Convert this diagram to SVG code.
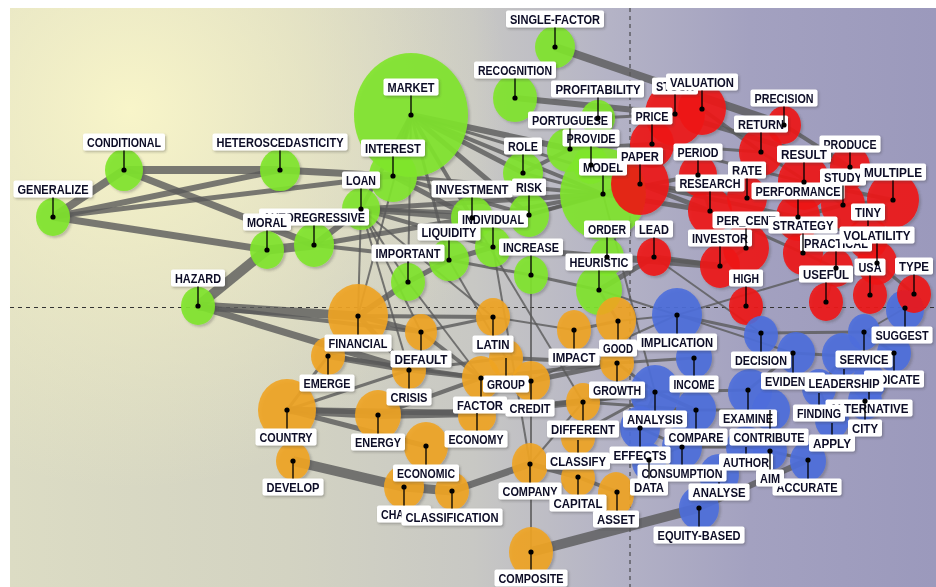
<svg xmlns="http://www.w3.org/2000/svg" width="936" height="587" viewBox="0 0 936 587">
<defs>
<linearGradient id="bgl" x1="10" y1="0" x2="936" y2="0" gradientUnits="userSpaceOnUse">
<stop offset="0" stop-color="#dcdcc4"/><stop offset="0.3" stop-color="#d3d3c2"/><stop offset="0.5" stop-color="#c8c8c4"/><stop offset="0.65" stop-color="#b4b3c6"/><stop offset="0.8" stop-color="#a3a1c0"/><stop offset="1" stop-color="#9b99bc"/>
</linearGradient>
<radialGradient id="bgr" cx="130" cy="110" r="380" gradientUnits="userSpaceOnUse">
<stop offset="0" stop-color="#f8f5c9" stop-opacity="1"/><stop offset="0.45" stop-color="#f3f0c6" stop-opacity="0.6"/><stop offset="1" stop-color="#f0edc4" stop-opacity="0"/>
</radialGradient>
<filter id="sh" x="-10%" y="-10%" width="120%" height="120%"><feDropShadow dx="2" dy="2" stdDeviation="1.2" flood-color="#404040" flood-opacity="0.3"/></filter>
<filter id="lsh" x="-10%" y="-10%" width="120%" height="120%"><feDropShadow dx="1.2" dy="1.4" stdDeviation="0.8" flood-color="#303030" flood-opacity="0.35"/></filter>
<style>
.e{stroke:#5a5a5a;stroke-opacity:.8;fill:none}
.dash{stroke:#333;stroke-width:1;stroke-dasharray:4 4;fill:none}
.g{fill:#7fe52a}.o{fill:#efa424}.r{fill:#ee1414}.b{fill:#4d6edb}
#nodes ellipse{fill-opacity:.9}
#labels rect{fill:#fff}
#labels text{font-family:"Liberation Sans",Arial,sans-serif;font-weight:bold;font-size:13.5px;fill:#0c0c26;text-anchor:middle}
.pin{stroke:#000;stroke-width:1.3;fill:none}
.dot{fill:#000}
</style>
</defs>
<rect x="10" y="8" width="926" height="579" fill="url(#bgl)"/>
<rect x="10" y="8" width="926" height="579" fill="url(#bgr)"/>
<path class="dash" d="M630 8V587M10 307.5H936"/>
<g id="connectors" class="e">
<path stroke-width="8" d="M53 217L124 170"/>
<path stroke-width="6" d="M53 217L280 170"/>
<path stroke-width="5" d="M53 217L393 176"/>
<path stroke-width="7" d="M53 217L267 250"/>
<path stroke-width="8" d="M124 170L280 170"/>
<path stroke-width="7" d="M124 170L314 245"/>
<path stroke-width="7" d="M280 170L393 176"/>
<path stroke-width="10" d="M267 250L198 306"/>
<path stroke-width="9" d="M267 250L314 245"/>
<path stroke-width="6" d="M314 245L361 209"/>
<path stroke-width="5" d="M314 245L472 218"/>
<path stroke-width="4" d="M314 245L449 260"/>
<path stroke-width="9" d="M198 306L358 316"/>
<path stroke-width="7" d="M198 306L409 370"/>
<path stroke-width="4" d="M198 306L421 332"/>
<path stroke-width="6" d="M411 115L393 176"/>
<path stroke-width="4" d="M411 115L361 209"/>
<path stroke-width="5" d="M411 115L523 173"/>
<path stroke-width="5" d="M411 115L529 215"/>
<path stroke-width="4" d="M411 115L472 218"/>
<path stroke-width="4" d="M411 115L603 194"/>
<path stroke-width="6" d="M411 115L570 149"/>
<path stroke-width="3" d="M411 115L449 260"/>
<path stroke-width="2" d="M411 115L358 316"/>
<path stroke-width="2" d="M411 115L408 282"/>
<path stroke-width="3" d="M411 115L640 184"/>
<path stroke-width="6" d="M361 209L472 218"/>
<path stroke-width="4" d="M361 209L529 215"/>
<path stroke-width="5" d="M361 209L603 194"/>
<path stroke-width="4" d="M361 209L493 247"/>
<path stroke-width="2" d="M361 209L408 282"/>
<path stroke-width="2" d="M361 209L358 316"/>
<path stroke-width="2" d="M361 209L421 332"/>
<path stroke-width="2" d="M361 209L409 370"/>
<path stroke-width="4" d="M393 176L529 215"/>
<path stroke-width="4" d="M393 176L603 194"/>
<path stroke-width="5" d="M393 176L472 218"/>
<path stroke-width="6" d="M603 194L640 184"/>
<path stroke-width="5" d="M603 194L710 211"/>
<path stroke-width="4" d="M603 194L698 175"/>
<path stroke-width="3" d="M529 215L603 194"/>
<path stroke-width="4" d="M529 215L640 184"/>
<path stroke-width="4" d="M472 218L603 194"/>
<path stroke-width="4" d="M523 173L570 149"/>
<path stroke-width="3" d="M523 173L603 194"/>
<path stroke-width="3" d="M570 149L598 118"/>
<path stroke-width="4" d="M570 149L652 144"/>
<path stroke-width="3" d="M598 118L675 114"/>
<path stroke-width="8" d="M555 47L784 125"/>
<path stroke-width="6" d="M515 98L675 114"/>
<path stroke-width="5" d="M675 114L850 167"/>
<path stroke-width="4" d="M702 109L761 152"/>
<path stroke-width="3" d="M652 144L761 152"/>
<path stroke-width="3" d="M652 144L804 182"/>
<path stroke-width="5" d="M640 184L710 211"/>
<path stroke-width="4" d="M640 184L747 198"/>
<path stroke-width="4" d="M640 184L798 217"/>
<path stroke-width="3" d="M698 175L710 211"/>
<path stroke-width="3" d="M710 211L803 253"/>
<path stroke-width="3" d="M747 198L804 182"/>
<path stroke-width="4" d="M804 182L893 200"/>
<path stroke-width="4" d="M843 205L893 200"/>
<path stroke-width="4" d="M798 217L843 205"/>
<path stroke-width="3" d="M798 217L868 238"/>
<path stroke-width="4" d="M784 125L850 167"/>
<path stroke-width="3" d="M761 152L843 205"/>
<path stroke-width="7" d="M607 257L720 266"/>
<path stroke-width="5" d="M654 257L720 266"/>
<path stroke-width="5" d="M599 290L654 257"/>
<path stroke-width="6" d="M493 247L607 257"/>
<path stroke-width="3" d="M531 275L599 290"/>
<path stroke-width="5" d="M449 260L493 247"/>
<path stroke-width="5" d="M408 282L449 260"/>
<path stroke-width="6" d="M408 282L358 316"/>
<path stroke-width="3" d="M449 260L531 275"/>
<path stroke-width="3" d="M599 290L618 321"/>
<path stroke-width="2" d="M654 257L761 333"/>
<path stroke-width="2" d="M677 315L836 268"/>
<path stroke-width="3" d="M677 315L761 333"/>
<path stroke-width="2" d="M677 315L793 353"/>
<path stroke-width="2" d="M599 290L677 315"/>
<path stroke-width="5" d="M358 316L421 332"/>
<path stroke-width="4" d="M358 316L493 317"/>
<path stroke-width="5" d="M358 316L409 370"/>
<path stroke-width="6" d="M328 356L409 370"/>
<path stroke-width="4" d="M328 356L481 378"/>
<path stroke-width="8" d="M287 410L378 415"/>
<path stroke-width="8" d="M378 415L477 413"/>
<path stroke-width="6" d="M287 410L477 413"/>
<path stroke-width="4" d="M378 415L481 378"/>
<path stroke-width="3" d="M287 410L409 370"/>
<path stroke-width="3" d="M287 410L328 356"/>
<path stroke-width="5" d="M287 410L426 446"/>
<path stroke-width="10" d="M293 461L404 487"/>
<path stroke-width="9" d="M404 487L452 491"/>
<path stroke-width="7" d="M452 491L530 464"/>
<path stroke-width="5" d="M530 464L578 477"/>
<path stroke-width="4" d="M617 492L578 477"/>
<path stroke-width="10" d="M531 552L699 508"/>
<path stroke-width="6" d="M699 508L808 460"/>
<path stroke-width="2" d="M531 552L531 381"/>
<path stroke-width="6" d="M477 413L583 402"/>
<path stroke-width="5" d="M477 413L655 392"/>
<path stroke-width="4" d="M481 378L617 363"/>
<path stroke-width="4" d="M506 358L617 363"/>
<path stroke-width="5" d="M531 381L617 363"/>
<path stroke-width="2" d="M493 317L574 330"/>
<path stroke-width="3" d="M421 332L493 317"/>
<path stroke-width="4" d="M421 332L481 378"/>
<path stroke-width="5" d="M409 370L481 378"/>
<path stroke-width="3" d="M409 370L506 358"/>
<path stroke-width="4" d="M583 402L655 392"/>
<path stroke-width="3" d="M578 434L655 392"/>
<path stroke-width="3" d="M583 402L696 410"/>
<path stroke-width="3" d="M617 363L694 358"/>
<path stroke-width="3" d="M617 363L655 392"/>
<path stroke-width="2" d="M531 381L677 315"/>
<path stroke-width="2" d="M618 321L677 315"/>
<path stroke-width="3" d="M574 330L618 321"/>
<path stroke-width="3" d="M655 392L748 390"/>
<path stroke-width="4" d="M655 392L696 410"/>
<path stroke-width="3" d="M696 410L770 410"/>
<path stroke-width="3" d="M640 428L682 447"/>
<path stroke-width="3" d="M640 428L655 392"/>
<path stroke-width="2" d="M649 460L682 447"/>
<path stroke-width="3" d="M682 447L746 447"/>
<path stroke-width="2" d="M719 478L746 447"/>
<path stroke-width="3" d="M748 390L793 353"/>
<path stroke-width="3" d="M761 333L864 332"/>
<path stroke-width="3" d="M793 353L844 356"/>
<path stroke-width="3" d="M864 332L894 353"/>
<path stroke-width="2" d="M905 308L864 332"/>
<path stroke-width="2" d="M819 388L832 420"/>
<path stroke-width="3" d="M869 382L865 401"/>
<path stroke-width="2" d="M746 447L770 451"/>
<path stroke-width="3" d="M770 451L808 460"/>
<path stroke-width="3" d="M844 356L819 388"/>
<path stroke-width="2" d="M472 218L583 402"/>
<path stroke-width="2" d="M603 194L655 392"/>
<path stroke-width="2" d="M493 247L530 464"/>
<path stroke-width="2" d="M531 275L531 381"/>
<path stroke-width="2" d="M449 260L506 358"/>
<path stroke-width="2" d="M408 282L481 378"/>
<path stroke-width="2" d="M361 209L493 317"/>
<path stroke-width="2" d="M530 464L583 402"/>
<path stroke-width="3" d="M746 248L720 266"/>
<path stroke-width="3" d="M803 253L836 268"/>
<path stroke-width="3" d="M877 263L870 295"/>
<path stroke-width="3" d="M868 238L877 263"/>
<path stroke-width="2" d="M826 302L836 268"/>
<path stroke-width="3" d="M914 294L877 263"/>
</g>
<g id="nodes" filter="url(#sh)">
<g id="market"><ellipse class="g" cx="411" cy="115" rx="57" ry="62"/></g>
<g id="model"><ellipse class="g" cx="603" cy="194" rx="43" ry="46"/></g>
<g id="single-factor"><ellipse class="g" cx="555" cy="47" rx="20" ry="21"/></g>
<g id="recognition"><ellipse class="g" cx="515" cy="98" rx="22" ry="24"/></g>
<g id="profitability"><ellipse class="g" cx="598" cy="118" rx="17" ry="18"/></g>
<g id="portuguese"><ellipse class="g" cx="568" cy="150" rx="21" ry="22"/></g>
<g id="provide"><ellipse class="g" cx="591" cy="165" rx="18" ry="19"/></g>
<g id="conditional"><ellipse class="g" cx="124" cy="170" rx="19" ry="21"/></g>
<g id="heteroscedasticity"><ellipse class="g" cx="280" cy="170" rx="20" ry="21"/></g>
<g id="generalize"><ellipse class="g" cx="53" cy="217" rx="17" ry="19"/></g>
<g id="interest"><ellipse class="g" cx="393" cy="176" rx="24" ry="26"/></g>
<g id="loan"><ellipse class="g" cx="361" cy="209" rx="19" ry="21"/></g>
<g id="moral"><ellipse class="g" cx="267" cy="250" rx="17" ry="19"/></g>
<g id="autoregressive"><ellipse class="g" cx="314" cy="245" rx="20" ry="22"/></g>
<g id="hazard"><ellipse class="g" cx="198" cy="306" rx="17" ry="19"/></g>
<g id="important"><ellipse class="g" cx="408" cy="282" rx="17" ry="19"/></g>
<g id="liquidity"><ellipse class="g" cx="449" cy="260" rx="20" ry="21"/></g>
<g id="investment"><ellipse class="g" cx="472" cy="218" rx="21" ry="22"/></g>
<g id="individual"><ellipse class="g" cx="493" cy="247" rx="18" ry="20"/></g>
<g id="risk"><ellipse class="g" cx="529" cy="215" rx="20" ry="22"/></g>
<g id="role"><ellipse class="g" cx="523" cy="173" rx="20" ry="21"/></g>
<g id="increase"><ellipse class="g" cx="531" cy="275" rx="17" ry="19"/></g>
<g id="heuristic"><ellipse class="g" cx="599" cy="290" rx="23" ry="25"/></g>
<g id="order"><ellipse class="g" cx="607" cy="257" rx="17" ry="19"/></g>
<g id="stock"><ellipse class="r" cx="675" cy="114" rx="30" ry="32"/></g>
<g id="valuation"><ellipse class="r" cx="702" cy="109" rx="24" ry="26"/></g>
<g id="price"><ellipse class="r" cx="652" cy="144" rx="22" ry="24"/></g>
<g id="paper"><ellipse class="r" cx="640" cy="184" rx="29" ry="31"/></g>
<g id="precision"><ellipse class="r" cx="784" cy="125" rx="17" ry="19"/></g>
<g id="return"><ellipse class="r" cx="761" cy="152" rx="22" ry="24"/></g>
<g id="period"><ellipse class="r" cx="698" cy="175" rx="19" ry="21"/></g>
<g id="research"><ellipse class="r" cx="710" cy="211" rx="22" ry="24"/></g>
<g id="rate"><ellipse class="r" cx="747" cy="198" rx="20" ry="22"/></g>
<g id="result"><ellipse class="r" cx="804" cy="182" rx="26" ry="28"/></g>
<g id="produce"><ellipse class="r" cx="850" cy="167" rx="20" ry="22"/></g>
<g id="study"><ellipse class="r" cx="843" cy="205" rx="22" ry="24"/></g>
<g id="multiple"><ellipse class="r" cx="893" cy="200" rx="26" ry="28"/></g>
<g id="performance"><ellipse class="r" cx="798" cy="217" rx="22" ry="24"/></g>
<g id="tiny"><ellipse class="r" cx="868" cy="238" rx="20" ry="22"/></g>
<g id="volatility"><ellipse class="r" cx="877" cy="263" rx="20" ry="22"/></g>
<g id="per_cent"><ellipse class="r" cx="746" cy="248" rx="23" ry="25"/></g>
<g id="strategy"><ellipse class="r" cx="803" cy="253" rx="20" ry="22"/></g>
<g id="investor"><ellipse class="r" cx="720" cy="266" rx="20" ry="22"/></g>
<g id="practical"><ellipse class="r" cx="836" cy="268" rx="17" ry="19"/></g>
<g id="lead"><ellipse class="r" cx="654" cy="257" rx="17" ry="19"/></g>
<g id="high"><ellipse class="r" cx="746" cy="306" rx="17" ry="19"/></g>
<g id="useful"><ellipse class="r" cx="826" cy="302" rx="17" ry="19"/></g>
<g id="usa"><ellipse class="r" cx="870" cy="295" rx="17" ry="19"/></g>
<g id="suggest"><ellipse class="b" cx="905" cy="310" rx="19" ry="20"/></g>
<g id="type"><ellipse class="r" cx="914" cy="294" rx="17" ry="19"/></g>
<g id="implication"><ellipse class="b" cx="677" cy="315" rx="25" ry="27"/></g>
<g id="decision"><ellipse class="b" cx="761" cy="335" rx="17" ry="19"/></g>
<g id="evidence"><ellipse class="b" cx="796" cy="353" rx="19" ry="21"/></g>
<g id="service"><ellipse class="b" cx="864" cy="332" rx="16" ry="18"/></g>
<g id="indicate"><ellipse class="b" cx="894" cy="353" rx="17" ry="19"/></g>
<g id="leadership"><ellipse class="b" cx="842" cy="355" rx="20" ry="22"/></g>
<g id="finding"><ellipse class="b" cx="819" cy="388" rx="17" ry="19"/></g>
<g id="alternative"><ellipse class="b" cx="869" cy="382" rx="17" ry="19"/></g>
<g id="city"><ellipse class="b" cx="865" cy="401" rx="17" ry="19"/></g>
<g id="apply"><ellipse class="b" cx="832" cy="420" rx="17" ry="19"/></g>
<g id="income"><ellipse class="b" cx="694" cy="358" rx="18" ry="20"/></g>
<g id="analysis"><ellipse class="b" cx="655" cy="392" rx="25" ry="27"/></g>
<g id="compare"><ellipse class="b" cx="696" cy="410" rx="20" ry="22"/></g>
<g id="examine"><ellipse class="b" cx="750" cy="392" rx="22" ry="23"/></g>
<g id="contribute"><ellipse class="b" cx="771" cy="410" rx="19" ry="21"/></g>
<g id="effects"><ellipse class="b" cx="640" cy="428" rx="20" ry="22"/></g>
<g id="consumption"><ellipse class="b" cx="682" cy="447" rx="20" ry="22"/></g>
<g id="data"><ellipse class="b" cx="649" cy="462" rx="17" ry="19"/></g>
<g id="author"><ellipse class="b" cx="746" cy="447" rx="20" ry="21"/></g>
<g id="aim"><ellipse class="b" cx="770" cy="451" rx="17" ry="19"/></g>
<g id="accurate"><ellipse class="b" cx="808" cy="461" rx="18" ry="20"/></g>
<g id="analyse"><ellipse class="b" cx="719" cy="475" rx="20" ry="21"/></g>
<g id="equity-based"><ellipse class="b" cx="699" cy="508" rx="20" ry="22"/></g>
<g id="financial"><ellipse class="o" cx="358" cy="316" rx="30" ry="32"/></g>
<g id="default"><ellipse class="o" cx="421" cy="332" rx="16" ry="18"/></g>
<g id="emerge"><ellipse class="o" cx="328" cy="356" rx="17" ry="19"/></g>
<g id="crisis"><ellipse class="o" cx="409" cy="370" rx="17" ry="19"/></g>
<g id="country"><ellipse class="o" cx="287" cy="410" rx="29" ry="31"/></g>
<g id="energy"><ellipse class="o" cx="378" cy="415" rx="23" ry="25"/></g>
<g id="economic"><ellipse class="o" cx="426" cy="446" rx="22" ry="24"/></g>
<g id="develop"><ellipse class="o" cx="293" cy="461" rx="17" ry="19"/></g>
<g id="change"><ellipse class="o" cx="404" cy="487" rx="20" ry="22"/></g>
<g id="classification"><ellipse class="o" cx="452" cy="491" rx="17" ry="19"/></g>
<g id="latin"><ellipse class="o" cx="493" cy="317" rx="17" ry="19"/></g>
<g id="impact"><ellipse class="o" cx="574" cy="330" rx="17" ry="20"/></g>
<g id="good"><ellipse class="o" cx="616" cy="320" rx="20" ry="23"/></g>
<g id="growth"><ellipse class="o" cx="617" cy="363" rx="17" ry="18"/></g>
<g id="group"><ellipse class="o" cx="506" cy="358" rx="17" ry="19"/></g>
<g id="factor"><ellipse class="o" cx="481" cy="378" rx="19" ry="22"/></g>
<g id="credit"><ellipse class="o" cx="531" cy="381" rx="19" ry="20"/></g>
<g id="economy"><ellipse class="o" cx="477" cy="416" rx="19" ry="18"/></g>
<g id="different"><ellipse class="o" cx="583" cy="402" rx="17" ry="19"/></g>
<g id="classify"><ellipse class="o" cx="578" cy="438" rx="17" ry="17"/></g>
<g id="company"><ellipse class="o" cx="530" cy="464" rx="18" ry="21"/></g>
<g id="capital"><ellipse class="o" cx="578" cy="478" rx="17" ry="18"/></g>
<g id="asset"><ellipse class="o" cx="616" cy="494" rx="18" ry="22"/></g>
<g id="composite"><ellipse class="o" cx="531" cy="552" rx="22" ry="25"/></g>
</g>
<g id="labels" filter="url(#lsh)">
<g id="l-single-factor"><rect x="506" y="10.5" width="98" height="17" rx="2"/><text x="555" y="23.8" textLength="90" lengthAdjust="spacingAndGlyphs">SINGLE-FACTOR</text></g>
<g id="l-recognition"><rect x="474" y="61.5" width="82" height="17" rx="2"/><text x="515" y="74.8" textLength="74" lengthAdjust="spacingAndGlyphs">RECOGNITION</text></g>
<g id="l-profitability"><rect x="551" y="80.5" width="93" height="17" rx="2"/><text x="598" y="93.8" textLength="85" lengthAdjust="spacingAndGlyphs">PROFITABILITY</text></g>
<g id="l-portuguese"><rect x="528" y="111.5" width="84" height="17" rx="2"/><text x="570" y="124.8" textLength="76" lengthAdjust="spacingAndGlyphs">PORTUGUESE</text></g>
<g id="l-provide"><rect x="562.5" y="129.5" width="57" height="17" rx="2"/><text x="591" y="142.8" textLength="49" lengthAdjust="spacingAndGlyphs">PROVIDE</text></g>
<g id="l-model"><rect x="579" y="158.5" width="48" height="17" rx="2"/><text x="603" y="171.8" textLength="40" lengthAdjust="spacingAndGlyphs">MODEL</text></g>
<g id="l-market"><rect x="383.5" y="78.5" width="55" height="17" rx="2"/><text x="411" y="91.8" textLength="47" lengthAdjust="spacingAndGlyphs">MARKET</text></g>
<g id="l-conditional"><rect x="83" y="133.5" width="82" height="17" rx="2"/><text x="124" y="146.8" textLength="74" lengthAdjust="spacingAndGlyphs">CONDITIONAL</text></g>
<g id="l-heteroscedasticity"><rect x="212.5" y="133.5" width="135" height="17" rx="2"/><text x="280" y="146.8" textLength="127" lengthAdjust="spacingAndGlyphs">HETEROSCEDASTICITY</text></g>
<g id="l-generalize"><rect x="13.5" y="180.5" width="79" height="17" rx="2"/><text x="53" y="193.8" textLength="71" lengthAdjust="spacingAndGlyphs">GENERALIZE</text></g>
<g id="l-interest"><rect x="361" y="139.5" width="64" height="17" rx="2"/><text x="393" y="152.8" textLength="56" lengthAdjust="spacingAndGlyphs">INTEREST</text></g>
<g id="l-loan"><rect x="342" y="171.5" width="38" height="17" rx="2"/><text x="361" y="184.8" textLength="30" lengthAdjust="spacingAndGlyphs">LOAN</text></g>
<g id="l-autoregressive"><rect x="259" y="208.5" width="110" height="17" rx="2"/><text x="314" y="221.8" textLength="102" lengthAdjust="spacingAndGlyphs">AUTOREGRESSIVE</text></g>
<g id="l-moral"><rect x="243" y="213.5" width="48" height="17" rx="2"/><text x="267" y="226.8" textLength="40" lengthAdjust="spacingAndGlyphs">MORAL</text></g>
<g id="l-hazard"><rect x="171" y="269.5" width="54" height="17" rx="2"/><text x="198" y="282.8" textLength="46" lengthAdjust="spacingAndGlyphs">HAZARD</text></g>
<g id="l-important"><rect x="371.5" y="244.5" width="73" height="17" rx="2"/><text x="408" y="257.8" textLength="65" lengthAdjust="spacingAndGlyphs">IMPORTANT</text></g>
<g id="l-investment"><rect x="431.5" y="180.5" width="81" height="17" rx="2"/><text x="472" y="193.8" textLength="73" lengthAdjust="spacingAndGlyphs">INVESTMENT</text></g>
<g id="l-liquidity"><rect x="417.5" y="223.5" width="63" height="17" rx="2"/><text x="449" y="236.8" textLength="55" lengthAdjust="spacingAndGlyphs">LIQUIDITY</text></g>
<g id="l-individual"><rect x="458" y="210.5" width="70" height="17" rx="2"/><text x="493" y="223.8" textLength="62" lengthAdjust="spacingAndGlyphs">INDIVIDUAL</text></g>
<g id="l-risk"><rect x="512" y="178.5" width="34" height="17" rx="2"/><text x="529" y="191.8" textLength="26" lengthAdjust="spacingAndGlyphs">RISK</text></g>
<g id="l-role"><rect x="504" y="137.5" width="38" height="17" rx="2"/><text x="523" y="150.8" textLength="30" lengthAdjust="spacingAndGlyphs">ROLE</text></g>
<g id="l-increase"><rect x="499" y="238.5" width="64" height="17" rx="2"/><text x="531" y="251.8" textLength="56" lengthAdjust="spacingAndGlyphs">INCREASE</text></g>
<g id="l-heuristic"><rect x="565.5" y="253.5" width="67" height="17" rx="2"/><text x="599" y="266.8" textLength="59" lengthAdjust="spacingAndGlyphs">HEURISTIC</text></g>
<g id="l-order"><rect x="584" y="220.5" width="46" height="17" rx="2"/><text x="607" y="233.8" textLength="38" lengthAdjust="spacingAndGlyphs">ORDER</text></g>
<g id="l-stock"><rect x="652" y="77.5" width="46" height="17" rx="2"/><text x="675" y="90.8" textLength="38" lengthAdjust="spacingAndGlyphs">STOCK</text></g>
<g id="l-valuation"><rect x="666" y="73.5" width="72" height="17" rx="2"/><text x="702" y="86.8" textLength="64" lengthAdjust="spacingAndGlyphs">VALUATION</text></g>
<g id="l-price"><rect x="631.5" y="107.5" width="41" height="17" rx="2"/><text x="652" y="120.8" textLength="33" lengthAdjust="spacingAndGlyphs">PRICE</text></g>
<g id="l-paper"><rect x="617" y="147.5" width="46" height="17" rx="2"/><text x="640" y="160.8" textLength="38" lengthAdjust="spacingAndGlyphs">PAPER</text></g>
<g id="l-precision"><rect x="750.5" y="89.5" width="67" height="17" rx="2"/><text x="784" y="102.8" textLength="59" lengthAdjust="spacingAndGlyphs">PRECISION</text></g>
<g id="l-return"><rect x="734" y="115.5" width="54" height="17" rx="2"/><text x="761" y="128.8" textLength="46" lengthAdjust="spacingAndGlyphs">RETURN</text></g>
<g id="l-period"><rect x="673.5" y="143.5" width="49" height="17" rx="2"/><text x="698" y="156.8" textLength="41" lengthAdjust="spacingAndGlyphs">PERIOD</text></g>
<g id="l-rate"><rect x="728" y="161.5" width="38" height="17" rx="2"/><text x="747" y="174.8" textLength="30" lengthAdjust="spacingAndGlyphs">RATE</text></g>
<g id="l-research"><rect x="675.5" y="174.5" width="69" height="17" rx="2"/><text x="710" y="187.8" textLength="61" lengthAdjust="spacingAndGlyphs">RESEARCH</text></g>
<g id="l-produce"><rect x="819.5" y="135.5" width="61" height="17" rx="2"/><text x="850" y="148.8" textLength="53" lengthAdjust="spacingAndGlyphs">PRODUCE</text></g>
<g id="l-result"><rect x="777" y="145.5" width="54" height="17" rx="2"/><text x="804" y="158.8" textLength="46" lengthAdjust="spacingAndGlyphs">RESULT</text></g>
<g id="l-performance"><rect x="751.5" y="182.5" width="93" height="17" rx="2"/><text x="798" y="195.8" textLength="85" lengthAdjust="spacingAndGlyphs">PERFORMANCE</text></g>
<g id="l-study"><rect x="820" y="168.5" width="46" height="17" rx="2"/><text x="843" y="181.8" textLength="38" lengthAdjust="spacingAndGlyphs">STUDY</text></g>
<g id="l-multiple"><rect x="860" y="163.5" width="66" height="17" rx="2"/><text x="893" y="176.8" textLength="58" lengthAdjust="spacingAndGlyphs">MULTIPLE</text></g>
<g id="l-tiny"><rect x="851" y="203.5" width="34" height="17" rx="2"/><text x="868" y="216.8" textLength="26" lengthAdjust="spacingAndGlyphs">TINY</text></g>
<g id="l-per_cent"><rect x="712.5" y="211.5" width="67" height="17" rx="2"/><text x="746" y="224.8" textLength="59" lengthAdjust="spacingAndGlyphs">PER_CENT</text></g>
<g id="l-strategy"><rect x="768.5" y="216.5" width="69" height="17" rx="2"/><text x="803" y="229.8" textLength="61" lengthAdjust="spacingAndGlyphs">STRATEGY</text></g>
<g id="l-investor"><rect x="688" y="229.5" width="64" height="17" rx="2"/><text x="720" y="242.8" textLength="56" lengthAdjust="spacingAndGlyphs">INVESTOR</text></g>
<g id="l-practical"><rect x="800" y="234.5" width="72" height="17" rx="2"/><text x="836" y="247.8" textLength="64" lengthAdjust="spacingAndGlyphs">PRACTICAL</text></g>
<g id="l-volatility"><rect x="839.5" y="226.5" width="75" height="17" rx="2"/><text x="877" y="239.8" textLength="67" lengthAdjust="spacingAndGlyphs">VOLATILITY</text></g>
<g id="l-lead"><rect x="635" y="220.5" width="38" height="17" rx="2"/><text x="654" y="233.8" textLength="30" lengthAdjust="spacingAndGlyphs">LEAD</text></g>
<g id="l-high"><rect x="729" y="269.5" width="34" height="17" rx="2"/><text x="746" y="282.8" textLength="26" lengthAdjust="spacingAndGlyphs">HIGH</text></g>
<g id="l-useful"><rect x="799" y="265.5" width="54" height="17" rx="2"/><text x="826" y="278.8" textLength="46" lengthAdjust="spacingAndGlyphs">USEFUL</text></g>
<g id="l-usa"><rect x="854.5" y="258.5" width="31" height="17" rx="2"/><text x="870" y="271.8" textLength="23" lengthAdjust="spacingAndGlyphs">USA</text></g>
<g id="l-type"><rect x="895" y="257.5" width="38" height="17" rx="2"/><text x="914" y="270.8" textLength="30" lengthAdjust="spacingAndGlyphs">TYPE</text></g>
<g id="l-suggest"><rect x="871.5" y="326.5" width="61" height="17" rx="2"/><text x="902" y="339.8" textLength="53" lengthAdjust="spacingAndGlyphs">SUGGEST</text></g>
<g id="l-implication"><rect x="637" y="333.5" width="80" height="17" rx="2"/><text x="677" y="346.8" textLength="72" lengthAdjust="spacingAndGlyphs">IMPLICATION</text></g>
<g id="l-decision"><rect x="731" y="351.5" width="60" height="17" rx="2"/><text x="761" y="364.8" textLength="52" lengthAdjust="spacingAndGlyphs">DECISION</text></g>
<g id="l-evidence"><rect x="761" y="372.5" width="64" height="17" rx="2"/><text x="793" y="385.8" textLength="56" lengthAdjust="spacingAndGlyphs">EVIDENCE</text></g>
<g id="l-service"><rect x="835.5" y="350.5" width="57" height="17" rx="2"/><text x="864" y="363.8" textLength="49" lengthAdjust="spacingAndGlyphs">SERVICE</text></g>
<g id="l-indicate"><rect x="864" y="370.5" width="60" height="17" rx="2"/><text x="894" y="383.8" textLength="52" lengthAdjust="spacingAndGlyphs">INDICATE</text></g>
<g id="l-leadership"><rect x="804.5" y="374.5" width="79" height="17" rx="2"/><text x="844" y="387.8" textLength="71" lengthAdjust="spacingAndGlyphs">LEADERSHIP</text></g>
<g id="l-alternative"><rect x="825.5" y="399.5" width="87" height="17" rx="2"/><text x="869" y="412.8" textLength="79" lengthAdjust="spacingAndGlyphs">ALTERNATIVE</text></g>
<g id="l-finding"><rect x="793" y="404.5" width="52" height="17" rx="2"/><text x="819" y="417.8" textLength="44" lengthAdjust="spacingAndGlyphs">FINDING</text></g>
<g id="l-city"><rect x="848" y="419.5" width="34" height="17" rx="2"/><text x="865" y="432.8" textLength="26" lengthAdjust="spacingAndGlyphs">CITY</text></g>
<g id="l-apply"><rect x="809" y="434.5" width="46" height="17" rx="2"/><text x="832" y="447.8" textLength="38" lengthAdjust="spacingAndGlyphs">APPLY</text></g>
<g id="l-income"><rect x="669.5" y="375.5" width="49" height="17" rx="2"/><text x="694" y="388.8" textLength="41" lengthAdjust="spacingAndGlyphs">INCOME</text></g>
<g id="l-analysis"><rect x="623" y="410.5" width="64" height="17" rx="2"/><text x="655" y="423.8" textLength="56" lengthAdjust="spacingAndGlyphs">ANALYSIS</text></g>
<g id="l-compare"><rect x="664.5" y="428.5" width="63" height="17" rx="2"/><text x="696" y="441.8" textLength="55" lengthAdjust="spacingAndGlyphs">COMPARE</text></g>
<g id="l-examine"><rect x="719" y="409.5" width="58" height="17" rx="2"/><text x="748" y="422.8" textLength="50" lengthAdjust="spacingAndGlyphs">EXAMINE</text></g>
<g id="l-contribute"><rect x="729.5" y="428.5" width="79" height="17" rx="2"/><text x="769" y="441.8" textLength="71" lengthAdjust="spacingAndGlyphs">CONTRIBUTE</text></g>
<g id="l-effects"><rect x="609.5" y="446.5" width="61" height="17" rx="2"/><text x="640" y="459.8" textLength="53" lengthAdjust="spacingAndGlyphs">EFFECTS</text></g>
<g id="l-data"><rect x="630" y="478.5" width="38" height="17" rx="2"/><text x="649" y="491.8" textLength="30" lengthAdjust="spacingAndGlyphs">DATA</text></g>
<g id="l-consumption"><rect x="637.5" y="464.5" width="89" height="17" rx="2"/><text x="682" y="477.8" textLength="81" lengthAdjust="spacingAndGlyphs">CONSUMPTION</text></g>
<g id="l-author"><rect x="719" y="453.5" width="54" height="17" rx="2"/><text x="746" y="466.8" textLength="46" lengthAdjust="spacingAndGlyphs">AUTHOR</text></g>
<g id="l-accurate"><rect x="772.5" y="478.5" width="69" height="17" rx="2"/><text x="807" y="491.8" textLength="61" lengthAdjust="spacingAndGlyphs">ACCURATE</text></g>
<g id="l-aim"><rect x="756" y="469.5" width="28" height="17" rx="2"/><text x="770" y="482.8" textLength="20" lengthAdjust="spacingAndGlyphs">AIM</text></g>
<g id="l-analyse"><rect x="688.5" y="483.5" width="61" height="17" rx="2"/><text x="719" y="496.8" textLength="53" lengthAdjust="spacingAndGlyphs">ANALYSE</text></g>
<g id="l-equity-based"><rect x="653.5" y="526.5" width="91" height="17" rx="2"/><text x="699" y="539.8" textLength="83" lengthAdjust="spacingAndGlyphs">EQUITY-BASED</text></g>
<g id="l-financial"><rect x="324.5" y="334.5" width="67" height="17" rx="2"/><text x="358" y="347.8" textLength="59" lengthAdjust="spacingAndGlyphs">FINANCIAL</text></g>
<g id="l-default"><rect x="390.5" y="350.5" width="61" height="17" rx="2"/><text x="421" y="363.8" textLength="53" lengthAdjust="spacingAndGlyphs">DEFAULT</text></g>
<g id="l-emerge"><rect x="299.5" y="374.5" width="55" height="17" rx="2"/><text x="327" y="387.8" textLength="47" lengthAdjust="spacingAndGlyphs">EMERGE</text></g>
<g id="l-crisis"><rect x="386.5" y="388.5" width="45" height="17" rx="2"/><text x="409" y="401.8" textLength="37" lengthAdjust="spacingAndGlyphs">CRISIS</text></g>
<g id="l-country"><rect x="255.5" y="428.5" width="61" height="17" rx="2"/><text x="286" y="441.8" textLength="53" lengthAdjust="spacingAndGlyphs">COUNTRY</text></g>
<g id="l-energy"><rect x="351" y="433.5" width="54" height="17" rx="2"/><text x="378" y="446.8" textLength="46" lengthAdjust="spacingAndGlyphs">ENERGY</text></g>
<g id="l-economic"><rect x="393" y="464.5" width="66" height="17" rx="2"/><text x="426" y="477.8" textLength="58" lengthAdjust="spacingAndGlyphs">ECONOMIC</text></g>
<g id="l-develop"><rect x="262.5" y="478.5" width="61" height="17" rx="2"/><text x="293" y="491.8" textLength="53" lengthAdjust="spacingAndGlyphs">DEVELOP</text></g>
<g id="l-change"><rect x="377" y="505.5" width="54" height="17" rx="2"/><text x="404" y="518.8" textLength="46" lengthAdjust="spacingAndGlyphs">CHANGE</text></g>
<g id="l-classification"><rect x="401.5" y="508.5" width="101" height="17" rx="2"/><text x="452" y="521.8" textLength="93" lengthAdjust="spacingAndGlyphs">CLASSIFICATION</text></g>
<g id="l-latin"><rect x="472.5" y="335.5" width="41" height="17" rx="2"/><text x="493" y="348.8" textLength="33" lengthAdjust="spacingAndGlyphs">LATIN</text></g>
<g id="l-impact"><rect x="548.5" y="348.5" width="51" height="17" rx="2"/><text x="574" y="361.8" textLength="43" lengthAdjust="spacingAndGlyphs">IMPACT</text></g>
<g id="l-good"><rect x="599" y="339.5" width="38" height="17" rx="2"/><text x="618" y="352.8" textLength="30" lengthAdjust="spacingAndGlyphs">GOOD</text></g>
<g id="l-growth"><rect x="589" y="381.5" width="56" height="17" rx="2"/><text x="617" y="394.8" textLength="48" lengthAdjust="spacingAndGlyphs">GROWTH</text></g>
<g id="l-group"><rect x="483" y="375.5" width="46" height="17" rx="2"/><text x="506" y="388.8" textLength="38" lengthAdjust="spacingAndGlyphs">GROUP</text></g>
<g id="l-factor"><rect x="453" y="396.5" width="54" height="17" rx="2"/><text x="480" y="409.8" textLength="46" lengthAdjust="spacingAndGlyphs">FACTOR</text></g>
<g id="l-credit"><rect x="505.5" y="399.5" width="49" height="17" rx="2"/><text x="530" y="412.8" textLength="41" lengthAdjust="spacingAndGlyphs">CREDIT</text></g>
<g id="l-economy"><rect x="444.5" y="430.5" width="63" height="17" rx="2"/><text x="476" y="443.8" textLength="55" lengthAdjust="spacingAndGlyphs">ECONOMY</text></g>
<g id="l-different"><rect x="547" y="420.5" width="72" height="17" rx="2"/><text x="583" y="433.8" textLength="64" lengthAdjust="spacingAndGlyphs">DIFFERENT</text></g>
<g id="l-classify"><rect x="546" y="452.5" width="64" height="17" rx="2"/><text x="578" y="465.8" textLength="56" lengthAdjust="spacingAndGlyphs">CLASSIFY</text></g>
<g id="l-company"><rect x="498.5" y="482.5" width="63" height="17" rx="2"/><text x="530" y="495.8" textLength="55" lengthAdjust="spacingAndGlyphs">COMPANY</text></g>
<g id="l-capital"><rect x="549.5" y="494.5" width="57" height="17" rx="2"/><text x="578" y="507.8" textLength="49" lengthAdjust="spacingAndGlyphs">CAPITAL</text></g>
<g id="l-asset"><rect x="593" y="510.5" width="46" height="17" rx="2"/><text x="616" y="523.8" textLength="38" lengthAdjust="spacingAndGlyphs">ASSET</text></g>
<g id="l-composite"><rect x="494.5" y="569.5" width="73" height="17" rx="2"/><text x="531" y="582.8" textLength="65" lengthAdjust="spacingAndGlyphs">COMPOSITE</text></g>
</g>
<g id="pins">
<path class="pin" d="M555 47V27.5M515 98V78.5M598 118V97.5M570 149V128.5M591 165V146.5M603 194V175.5M411 115V95.5M124 170V150.5M280 170V150.5M53 217V197.5M393 176V156.5M361 209V188.5M314 245V225.5M267 250V230.5M198 306V286.5M408 282V261.5M449 260V240.5M472 218V197.5M493 247V227.5M529 215V195.5M523 173V154.5M531 275V255.5M599 290V270.5M607 257V237.5"/>
<path class="pin" d="M675 114V94.5M702 109V90.5M652 144V124.5M640 184V164.5M784 125V106.5M761 152V132.5M698 175V160.5M710 211V191.5M747 198V178.5M850 167V152.5M804 182V162.5M843 205V185.5M893 200V180.5M798 217V199.5M868 226V220.5M746 248V228.5M803 253V233.5M720 266V246.5M836 268V251.5M877 263V243.5M654 257V237.5M746 306V286.5M826 302V282.5M870 295V275.5M914 294V274.5"/>
<path class="pin" d="M905 308V326.5M677 315V333.5M761 333V351.5M793 353V372.5M864 332V350.5M894 353V370.5M844 369V374.5M869 392V399.5M819 393V404.5M865 401V419.5M832 423V434.5M694 358V375.5M655 392V410.5M696 410V428.5M748 390V409.5M770 410V428.5M640 428V446.5M649 460V478.5M682 447V464.5M746 447V453.5M770 451V469.5M808 460V478.5M719 482V483.5M699 508V526.5"/>
<path class="pin" d="M358 316V334.5M421 332V350.5M328 356V374.5M409 370V388.5M287 410V428.5M378 415V433.5M426 446V464.5M293 461V478.5M404 487V505.5M452 491V508.5M493 317V335.5M574 330V348.5M618 321V339.5M617 363V381.5M506 358V375.5M481 378V396.5M531 381V399.5M477 413V430.5M583 402V420.5M578 440V452.5M530 464V482.5M578 477V494.5M617 492V510.5M531 552V569.5"/>
<g class="dot">
<circle cx="555" cy="47" r="2.6"/><circle cx="515" cy="98" r="2.6"/><circle cx="598" cy="118" r="2.6"/><circle cx="570" cy="149" r="2.6"/><circle cx="591" cy="165" r="2.6"/><circle cx="603" cy="194" r="2.6"/><circle cx="411" cy="115" r="2.6"/><circle cx="124" cy="170" r="2.6"/><circle cx="280" cy="170" r="2.6"/><circle cx="53" cy="217" r="2.6"/><circle cx="393" cy="176" r="2.6"/><circle cx="361" cy="209" r="2.6"/><circle cx="314" cy="245" r="2.6"/><circle cx="267" cy="250" r="2.6"/><circle cx="198" cy="306" r="2.6"/><circle cx="408" cy="282" r="2.6"/><circle cx="449" cy="260" r="2.6"/><circle cx="472" cy="218" r="2.6"/><circle cx="493" cy="247" r="2.6"/><circle cx="529" cy="215" r="2.6"/><circle cx="523" cy="173" r="2.6"/><circle cx="531" cy="275" r="2.6"/><circle cx="599" cy="290" r="2.6"/><circle cx="607" cy="257" r="2.6"/>
<circle cx="675" cy="114" r="2.6"/><circle cx="702" cy="109" r="2.6"/><circle cx="652" cy="144" r="2.6"/><circle cx="640" cy="184" r="2.6"/><circle cx="784" cy="125" r="2.6"/><circle cx="761" cy="152" r="2.6"/><circle cx="698" cy="175" r="2.6"/><circle cx="710" cy="211" r="2.6"/><circle cx="747" cy="198" r="2.6"/><circle cx="850" cy="167" r="2.6"/><circle cx="804" cy="182" r="2.6"/><circle cx="843" cy="205" r="2.6"/><circle cx="893" cy="200" r="2.6"/><circle cx="798" cy="217" r="2.6"/><circle cx="746" cy="248" r="2.6"/><circle cx="803" cy="253" r="2.6"/><circle cx="720" cy="266" r="2.6"/><circle cx="836" cy="268" r="2.6"/><circle cx="877" cy="263" r="2.6"/><circle cx="654" cy="257" r="2.6"/><circle cx="746" cy="306" r="2.6"/><circle cx="826" cy="302" r="2.6"/><circle cx="870" cy="295" r="2.6"/><circle cx="914" cy="294" r="2.6"/>
<circle cx="905" cy="308" r="2.6"/><circle cx="677" cy="315" r="2.6"/><circle cx="761" cy="333" r="2.6"/><circle cx="793" cy="353" r="2.6"/><circle cx="864" cy="332" r="2.6"/><circle cx="894" cy="353" r="2.6"/><circle cx="865" cy="401" r="2.6"/><circle cx="694" cy="358" r="2.6"/><circle cx="655" cy="392" r="2.6"/><circle cx="696" cy="410" r="2.6"/><circle cx="748" cy="390" r="2.6"/><circle cx="640" cy="428" r="2.6"/><circle cx="649" cy="460" r="2.6"/><circle cx="682" cy="447" r="2.6"/><circle cx="770" cy="451" r="2.6"/><circle cx="808" cy="460" r="2.6"/><circle cx="699" cy="508" r="2.6"/>
<circle cx="358" cy="316" r="2.6"/><circle cx="421" cy="332" r="2.6"/><circle cx="328" cy="356" r="2.6"/><circle cx="409" cy="370" r="2.6"/><circle cx="287" cy="410" r="2.6"/><circle cx="378" cy="415" r="2.6"/><circle cx="426" cy="446" r="2.6"/><circle cx="293" cy="461" r="2.6"/><circle cx="404" cy="487" r="2.6"/><circle cx="452" cy="491" r="2.6"/><circle cx="493" cy="317" r="2.6"/><circle cx="574" cy="330" r="2.6"/><circle cx="618" cy="321" r="2.6"/><circle cx="617" cy="363" r="2.6"/><circle cx="481" cy="378" r="2.6"/><circle cx="531" cy="381" r="2.6"/><circle cx="583" cy="402" r="2.6"/><circle cx="530" cy="464" r="2.6"/><circle cx="578" cy="477" r="2.6"/><circle cx="617" cy="492" r="2.6"/><circle cx="531" cy="552" r="2.6"/>
</g>
</g>
</svg>
